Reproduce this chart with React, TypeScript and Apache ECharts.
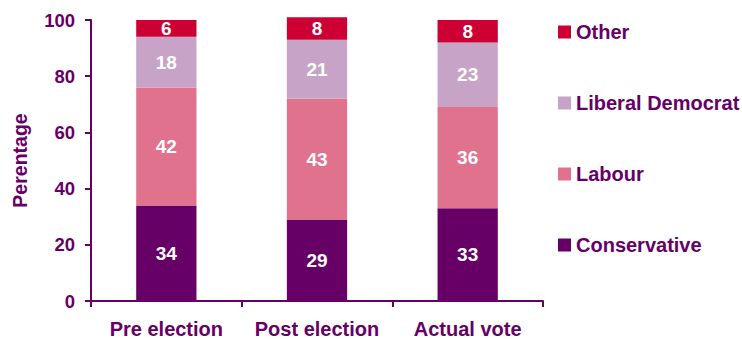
import React, { useEffect, useRef } from "react";
import * as echarts from "echarts";

const categories = ["Pre election", "Post election", "Actual vote"];
const conservative = [34, 29, 33];
const labour = [42, 43, 36];
const libDem = [18, 21, 23];
const other = [6, 8, 8];
const legendOrder = ["Other", "Liberal Democrat", "Labour", "Conservative"];

const TEXT = "#660066";
const FONT = "'Liberation Sans', Arial, sans-serif";

export default function App() {
  const ref = useRef<HTMLDivElement>(null);
  useEffect(() => {
    const chart = echarts.init(ref.current!, null, { renderer: "svg" });
    const mk = (name: string, data: number[], color: string) => ({
      name,
      type: "bar",
      stack: "total",
      data,
      barWidth: "40%",
      clip: false,
      itemStyle: { color },
      label: {
        show: true,
        position: "inside",
        color: "#ffffff",
        fontWeight: "bold",
        fontSize: 19,
        fontFamily: FONT,
      },
    });
    chart.setOption({
      animation: false,
      textStyle: { fontFamily: FONT },
      grid: { left: 91, top: 20, right: 199, bottom: 37, containLabel: false },
      legend: {
        orient: "vertical",
        left: 558,
        top: 22,
        padding: 0,
        itemWidth: 13,
        itemHeight: 13,
        itemGap: 51,
        icon: "rect",
        data: legendOrder,
        textStyle: { color: TEXT, fontWeight: "bold", fontSize: 20, fontFamily: FONT },
      },
      xAxis: {
        type: "category",
        data: categories,
        axisLine: { lineStyle: { color: TEXT, width: 2 } },
        axisTick: { show: true, length: 6, alignWithLabel: false, lineStyle: { color: TEXT, width: 2 } },
        axisLabel: { interval: 0, color: TEXT, fontWeight: "bold", fontSize: 20, fontFamily: FONT, margin: 18 },
      },
      yAxis: {
        type: "value",
        min: 0,
        max: 100,
        interval: 20,
        name: "Perentage",
        nameLocation: "middle",
        nameGap: 61,
        nameTextStyle: { color: TEXT, fontWeight: "bold", fontSize: 19.5, fontFamily: FONT },
        axisLine: { show: true, lineStyle: { color: TEXT, width: 2 } },
        axisTick: { show: true, length: 6, lineStyle: { color: TEXT, width: 2 } },
        axisLabel: { color: TEXT, fontWeight: "bold", fontSize: 18.5, fontFamily: FONT, margin: 16 },
        splitLine: { show: false },
      },
      series: [
        mk("Conservative", conservative, "#660066"),
        mk("Labour", labour, "#E0728E"),
        mk("Liberal Democrat", libDem, "#C8A3C8"),
        mk("Other", other, "#CC0033"),
      ],
    });
    return () => chart.dispose();
  }, []);
  return <div ref={ref} style={{ width: 742, height: 339, position: "absolute", left: 0, top: 0 }} />;
}
